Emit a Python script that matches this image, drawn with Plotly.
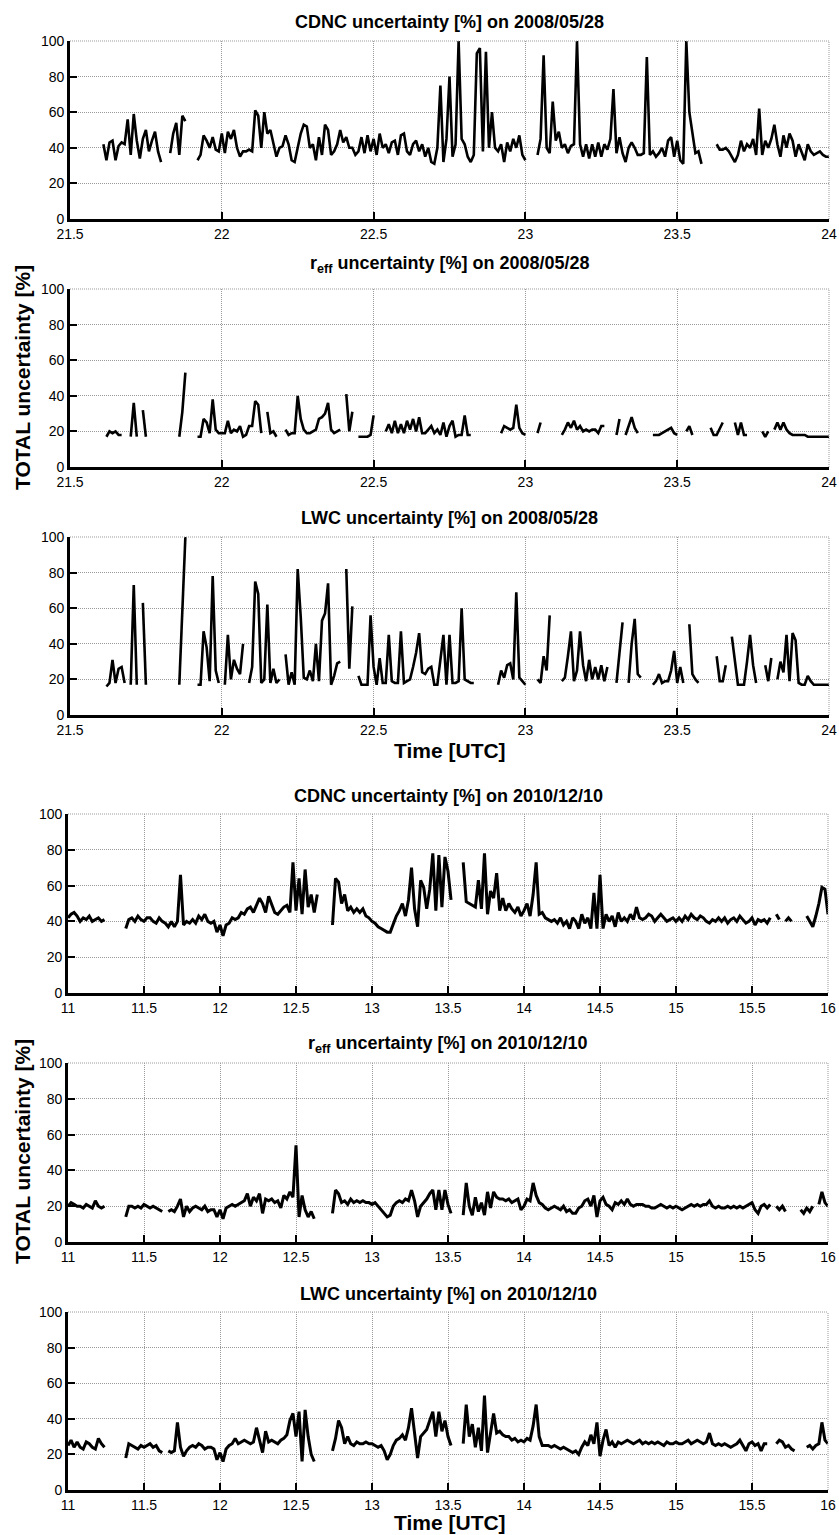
import plotly.graph_objects as go

W, H = 839, 1535
N = None

# sampling of the two flights (hours UTC)
t0_2008, dt_2008 = 21.60, 0.01
t0_2010, dt_2010 = 11.00, 0.02

cdnc_2008 = [
    N, 42, 33, 43, 44, 33, 41, 43, 42, 56,
    36, 59, 44, 34, 45, 50, 38, 44, 49, 38,
    32, N, N, 37, 48, 54, 36, 58, 55, N,
    N, N, 33, 36, 47, 44, 40, 46, 39, 38,
    48, 37, 49, 45, 50, 40, 35, 38, 38, 39,
    38, 61, 58, 40, 60, 48, 50, 42, 35, 40,
    41, 47, 42, 33, 32, 40, 48, 53, 52, 40,
    42, 33, 46, 36, 53, 50, 36, 38, 42, 50,
    43, 46, 40, 40, 36, 38, 46, 37, 47, 38,
    45, 36, 48, 40, 42, 37, 43, 44, 36, 47,
    48, 38, 36, 42, 44, 38, 42, 35, 40, 32,
    31, 40, 75, 32, 45, 80, 35, 42, 100, 45,
    42, 35, 32, 36, 93, 96, 38, 94, 40, 60,
    40, 38, 42, 32, 43, 38, 45, 40, 47, 36,
    33, N, N, N, 36, 45, 92, 40, 37, 66,
    44, 49, 40, 42, 37, 41, 42, 100, 42, 35,
    42, 34, 42, 35, 43, 35, 42, 39, 45, 73,
    37, 46, 37, 32, 40, 43, 40, 36, 36, 37,
    91, 36, 38, 35, 37, 40, 35, 44, 46, 35,
    44, 33, 31, 100, 60, 48, 37, 38, 31, N,
    N, N, N, 42, 39, 39, 40, 38, 35, 32,
    36, 44, 38, 42, 40, 45, 36, 62, 36, 44,
    40, 45, 53, 42, 35, 47, 40, 48, 44, 35,
    42, 38, 33, 42, 38, 36, 37, 38, 36, 35,
    35,
]

reff_2008 = [
    N, N, 17, 20, 19, 20, 18, 18, N, N,
    17, 36, 17, N, 32, 17, N, N, N, N,
    N, N, N, N, N, N, 17, 31, 53, N,
    N, N, 17, 17, 27, 25, 19, 38, 21, 19,
    19, 19, 26, 19, 21, 20, 23, 17, 18, 23,
    23, 37, 35, 19, N, 31, 19, 20, 17, N,
    N, 21, 18, 19, 19, 40, 27, 21, 19, 19,
    20, 21, 27, 28, 30, 36, 21, 19, 20, 21,
    N, 41, 20, 31, N, 17, 17, 17, 17, 18,
    29, N, 19, N, 20, 24, 19, 26, 19, 24,
    19, 26, 21, 27, 20, 28, 19, 19, 21, 23,
    19, 21, 18, 25, 17, 23, 26, 17, 18, 18,
    29, 18, 18, N, N, N, N, N, N, N,
    N, N, 19, 23, 22, 21, 22, 35, 22, 19,
    18, N, N, N, 19, 25, N, N, N, N,
    N, N, 18, 21, 25, 22, 26, 21, 23, 20,
    21, 20, 21, 21, 19, 23, 23, N, N, N,
    18, 27, N, 18, 23, 28, 22, 19, N, N,
    N, N, 18, 18, 18, 19, 20, 21, 22, 19,
    18, N, N, 20, 23, 18, N, N, N, N,
    N, 22, 18, 18, 22, 25, N, N, N, 25,
    18, 25, 18, 18, N, N, N, N, 20, 17,
    20, N, 21, 25, 21, 25, 21, 19, 18, 18,
    18, 18, 18, 17, 17, 17, 17, 17, 17, 17,
    17,
]

lwc_2008 = [
    N, N, 16, 18, 31, 18, 26, 27, 18, N,
    17, 73, 17, N, 63, 17, N, N, N, N,
    N, N, N, N, N, N, 17, 60, 100, N,
    N, N, 17, 17, 47, 38, 19, 78, 25, 18,
    N, 17, 45, 20, 31, 26, 23, 40, N, 18,
    27, 75, 68, 18, 20, 62, 18, 26, 18, 20,
    N, 34, 17, 24, 17, 82, 55, 21, 20, 25,
    19, 40, 19, 53, 57, 74, 17, 22, 29, 30,
    N, 82, 26, 61, N, 22, 17, 17, 17, 56,
    27, 17, 32, 18, 18, 45, 19, 18, 18, 47,
    18, 19, 20, 27, 35, 46, 24, 23, 26, 27,
    17, 17, 30, 45, 17, 45, 18, 18, 19, 60,
    20, 19, 18, 18, N, N, N, N, N, N,
    N, 17, 25, 21, 28, 29, 20, 69, 21, 19,
    17, N, N, N, 20, 18, 33, 25, 56, N,
    N, N, 19, 21, 33, 47, 19, 25, 47, 28,
    19, 31, 20, 27, 20, 28, 19, 27, N, N,
    18, 35, 52, N, 18, 40, 54, 23, 21, N,
    N, N, 17, 19, 23, 18, 19, 19, 25, 36,
    18, 27, 18, N, 51, 23, 20, 18, N, N,
    N, N, N, 33, 19, 19, 28, N, 44, 30,
    17, 17, 17, 30, 45, 28, 18, N, N, 28,
    19, 32, N, 20, 30, 24, 45, 19, 46, 42,
    18, 17, 17, 22, 19, 17, 17, 17, 17, 17,
    17,
]

cdnc_2010 = [
    42, 44, 45, 43, 40, 42, 41, 43, 40, 41,
    42, 40, 41, N, N, N, 43, N, N, 36,
    41, 42, 40, 43, 41, 40, 42, 42, 40, 39,
    42, 40, 39, 37, 40, 37, 40, 66, 38, 40,
    39, 41, 39, 43, 41, 44, 40, 39, 40, 34,
    38, 32, 38, 39, 42, 41, 42, 45, 44, 47,
    48, 45, 49, 53, 50, 45, 54, 49, 45, 44,
    46, 48, 49, 45, 73, 46, 64, 44, 69, 48,
    55, 45, 55, N, N, N, N, 38, 64, 62,
    50, 55, 46, 48, 45, 47, 45, 47, 43, 42,
    40, 39, 37, 36, 35, 34, 34, 39, 43, 46,
    50, 43, 52, 70, 47, 37, 63, 59, 47, 58,
    78, 46, 77, 48, 76, 68, 52, N, N, N,
    73, 51, 50, 49, 48, 63, 47, 78, 44, 57,
    53, 67, 46, 53, 46, 50, 47, 45, 48, 43,
    46, 50, 43, 55, 73, 44, 45, 42, 41, 40,
    41, 39, 42, 38, 40, 36, 42, 40, 36, 44,
    39, 42, 36, 56, 36, 66, 36, 44, 40, 43,
    37, 45, 40, 42, 40, 44, 41, 48, 42, 41,
    42, 44, 43, 40, 42, 44, 42, 40, 41, 42,
    40, 42, 40, 43, 41, 44, 42, 41, 43, 42,
    40, 39, 41, 40, 42, 40, 42, 39, 41, 42,
    40, 43, 41, 39, 40, 42, 38, 41, 40, 41,
    39, 42, N, 44, 41, N, 40, 42, 40, N,
    41, N, N, 43, 40, 37, 43, 50, 59, 58,
    44,
]

reff_2010 = [
    20, 22, 21, 20, 20, 19, 21, 20, 19, 23,
    20, 19, 20, N, N, N, 21, N, N, 14,
    20, 20, 19, 20, 19, 21, 20, 19, 20, 19,
    18, 17, N, 17, 18, 17, 20, 24, 14, 20,
    17, 19, 20, 19, 18, 20, 17, 18, 18, 14,
    18, 13, 19, 20, 21, 20, 21, 22, 23, 27,
    20, 25, 23, 27, 16, 24, 23, 24, 22, 23,
    19, 26, 24, 28, 25, 54, 14, 26, 18, 14,
    17, 13, N, N, N, N, N, 16, 29, 27,
    22, 23, 21, 24, 22, 23, 22, 23, 22, 22,
    21, 22, 20, 18, 16, 14, 15, 20, 22, 23,
    22, 24, 23, 29, 23, 14, 20, 22, 24, 27,
    29, 18, 29, 18, 29, 21, 16, N, N, N,
    15, 33, 20, 15, 25, 17, 22, 15, 28, 19,
    28, 25, 24, 24, 23, 24, 22, 23, 24, 18,
    20, 24, 23, 33, 26, 22, 21, 19, 18, 19,
    20, 19, 18, 20, 17, 18, 16, 16, 19, 20,
    23, 24, 20, 26, 14, 23, 25, 21, 20, 18,
    22, 21, 23, 21, 24, 21, 20, 21, 21, 21,
    20, 20, 19, 19, 20, 21, 20, 19, 20, 19,
    20, 19, 18, 19, 20, 21, 20, 21, 20, 21,
    21, 23, 20, 19, 20, 19, 19, 20, 19, 20,
    19, 20, 19, 20, 21, 22, 18, 16, 20, 21,
    19, 21, N, 20, 18, 20, 17, N, N, N,
    N, 18, 16, 19, 17, 20, N, 21, 28, 22,
    20,
]

lwc_2010 = [
    25, 28, 24, 27, 24, 23, 27, 26, 24, 23,
    29, 26, 24, N, N, N, 26, N, N, 18,
    26, 25, 24, 23, 25, 24, 25, 26, 24, 25,
    22, 21, N, 22, 21, 22, 38, 24, 19, 22,
    24, 25, 24, 26, 25, 23, 24, 24, 23, 17,
    21, 16, 23, 25, 26, 29, 26, 27, 28, 27,
    26, 27, 35, 28, 21, 33, 27, 28, 27, 26,
    28, 29, 31, 39, 43, 30, 44, 16, 45, 30,
    20, 16, N, N, N, N, N, 22, 29, 39,
    35, 26, 30, 26, 25, 27, 26, 26, 27, 26,
    26, 25, 24, 25, 22, 17, 20, 25, 28, 29,
    31, 28, 35, 46, 31, 18, 30, 32, 34, 39,
    44, 30, 44, 33, 39, 30, 25, N, N, N,
    26, 48, 30, 37, 24, 35, 22, 53, 21, 32,
    43, 32, 33, 31, 30, 30, 28, 29, 27, 28,
    27, 29, 28, 36, 48, 30, 25, 25, 25, 24,
    25, 24, 23, 24, 23, 22, 21, 22, 20, 24,
    27, 25, 31, 26, 38, 19, 28, 34, 25, 27,
    24, 27, 26, 27, 28, 27, 26, 27, 28, 26,
    27, 26, 27, 26, 27, 26, 25, 27, 26, 26,
    27, 26, 26, 27, 28, 26, 27, 28, 27, 26,
    27, 32, 26, 25, 26, 25, 26, 25, 24, 25,
    26, 28, 25, 22, 26, 27, 25, 26, 22, 26,
    26, N, N, 26, 28, 27, 24, 25, 23, 22,
    N, N, N, 24, 25, 23, 25, 26, 38, 28,
    26,
]

x_ticks_2008 = [21.5, 22, 22.5, 23, 23.5, 24]
x_labels_2008 = ["21.5", "22", "22.5", "23", "23.5", "24"]
x_ticks_2010 = [11, 11.5, 12, 12.5, 13, 13.5, 14, 14.5, 15, 15.5, 16]
x_labels_2010 = ["11", "11.5", "12", "12.5", "13", "13.5", "14", "14.5", "15", "15.5", "16"]
y_ticks = [0, 20, 40, 60, 80, 100]
y_labels = ["0", "20", "40", "60", "80", "100"]

titles = [
    "CDNC uncertainty [%] on 2008/05/28",
    "r<sub>eff</sub> uncertainty [%] on 2008/05/28",
    "LWC uncertainty [%] on 2008/05/28",
    "CDNC uncertainty [%] on 2010/12/10",
    "r<sub>eff</sub> uncertainty [%] on 2010/12/10",
    "LWC uncertainty [%] on 2010/12/10",
]

for arr in (cdnc_2008, reff_2008, lwc_2008):
    assert len(arr) == 241, len(arr)
for arr in (cdnc_2010, reff_2010, lwc_2010):
    assert len(arr) == 251, len(arr)

# panel geometry in pixels: (left, right, top, bottom, title_y, line width)
panels = [
    (cdnc_2008, t0_2008, dt_2008, [21.5, 24], x_ticks_2008, x_labels_2008, 70, 829, 41, 219, 22, 2.6),
    (reff_2008, t0_2008, dt_2008, [21.5, 24], x_ticks_2008, x_labels_2008, 70, 829, 289, 467, 264, 2.6),
    (lwc_2008, t0_2008, dt_2008, [21.5, 24], x_ticks_2008, x_labels_2008, 70, 829, 537, 715, 518, 2.6),
    (cdnc_2010, t0_2010, dt_2010, [11, 16], x_ticks_2010, x_labels_2010, 68, 828, 814, 993, 796, 3.0),
    (reff_2010, t0_2010, dt_2010, [11, 16], x_ticks_2010, x_labels_2010, 68, 828, 1063, 1242, 1044, 3.0),
    (lwc_2010, t0_2010, dt_2010, [11, 16], x_ticks_2010, x_labels_2010, 68, 828, 1312, 1490, 1294, 3.0),
]

FONT = "Liberation Sans, Arial, sans-serif"
GRID = "#9a9a9a"
DOT = "1px,1px"

def px(x):
    return x / W

def py(y):
    return 1 - y / H

fig = go.Figure()
annotations = []
shapes = []
layout = dict(
    width=W, height=H,
    margin=dict(l=0, r=0, t=0, b=0, pad=0, autoexpand=False),
    paper_bgcolor="white", plot_bgcolor="white",
    showlegend=False,
    font=dict(family=FONT, color="black"),
)

for i, (vals, t0, dt, xr, xt, xl, L, R, T, B, ty, lw) in enumerate(panels, start=1):
    times = [round(t0 + k * dt, 4) for k in range(len(vals))]
    xa = "x" if i == 1 else f"x{i}"
    ya = "y" if i == 1 else f"y{i}"
    fig.add_trace(go.Scatter(
        x=times, y=vals, xaxis=xa, yaxis=ya, mode="lines",
        line=dict(color="black", width=lw), connectgaps=False,
        hoverinfo="skip",
    ))
    common = dict(
        showline=True, linecolor="black", linewidth=2.6, mirror=False,
        ticks="inside", ticklen=7, tickwidth=2, tickcolor="black",
        showgrid=True, gridcolor=GRID, gridwidth=1, griddash=DOT,
        zeroline=False, automargin=False,
        tickfont=dict(family=FONT, size=14, color="black"),
    )
    layout["xaxis" if i == 1 else f"xaxis{i}"] = dict(
        domain=[px(L), px(R)], range=xr, tickmode="array",
        tickvals=xt, ticktext=xl, anchor=ya, **common)
    layout["yaxis" if i == 1 else f"yaxis{i}"] = dict(
        domain=[py(B), py(T)], range=[0, 100], tickmode="array",
        tickvals=y_ticks, ticktext=y_labels, anchor=xa, **common)
    # dotted box edges (top and right) as in the original frame
    shapes.append(dict(type="line", xref=f"{xa} domain", yref=f"{ya} domain",
                       x0=0, x1=1, y0=1, y1=1,
                       line=dict(color=GRID, width=1, dash=DOT)))
    shapes.append(dict(type="line", xref=f"{xa} domain", yref=f"{ya} domain",
                       x0=1, x1=1, y0=0, y1=1,
                       line=dict(color=GRID, width=1, dash=DOT)))
    annotations.append(dict(
        text=f"<b>{titles[i-1]}</b>", x=px((L + R) / 2), y=py(ty),
        xref="paper", yref="paper", xanchor="center", yanchor="middle",
        showarrow=False, font=dict(family=FONT, size=18, color="black")))

for yc in (378, 1152):
    annotations.append(dict(
        text="<b>TOTAL uncertainty [%]</b>", x=px(22), y=py(yc),
        xref="paper", yref="paper", xanchor="center", yanchor="middle",
        textangle=-90, showarrow=False,
        font=dict(family=FONT, size=21, color="black")))

for yc in (750, 1522):
    annotations.append(dict(
        text="<b>Time [UTC]</b>", x=px(450), y=py(yc),
        xref="paper", yref="paper", xanchor="center", yanchor="middle",
        showarrow=False, font=dict(family=FONT, size=21, color="black")))

layout["annotations"] = annotations
layout["shapes"] = shapes
fig.update_layout(**layout)
fig.write_html("out.html")
